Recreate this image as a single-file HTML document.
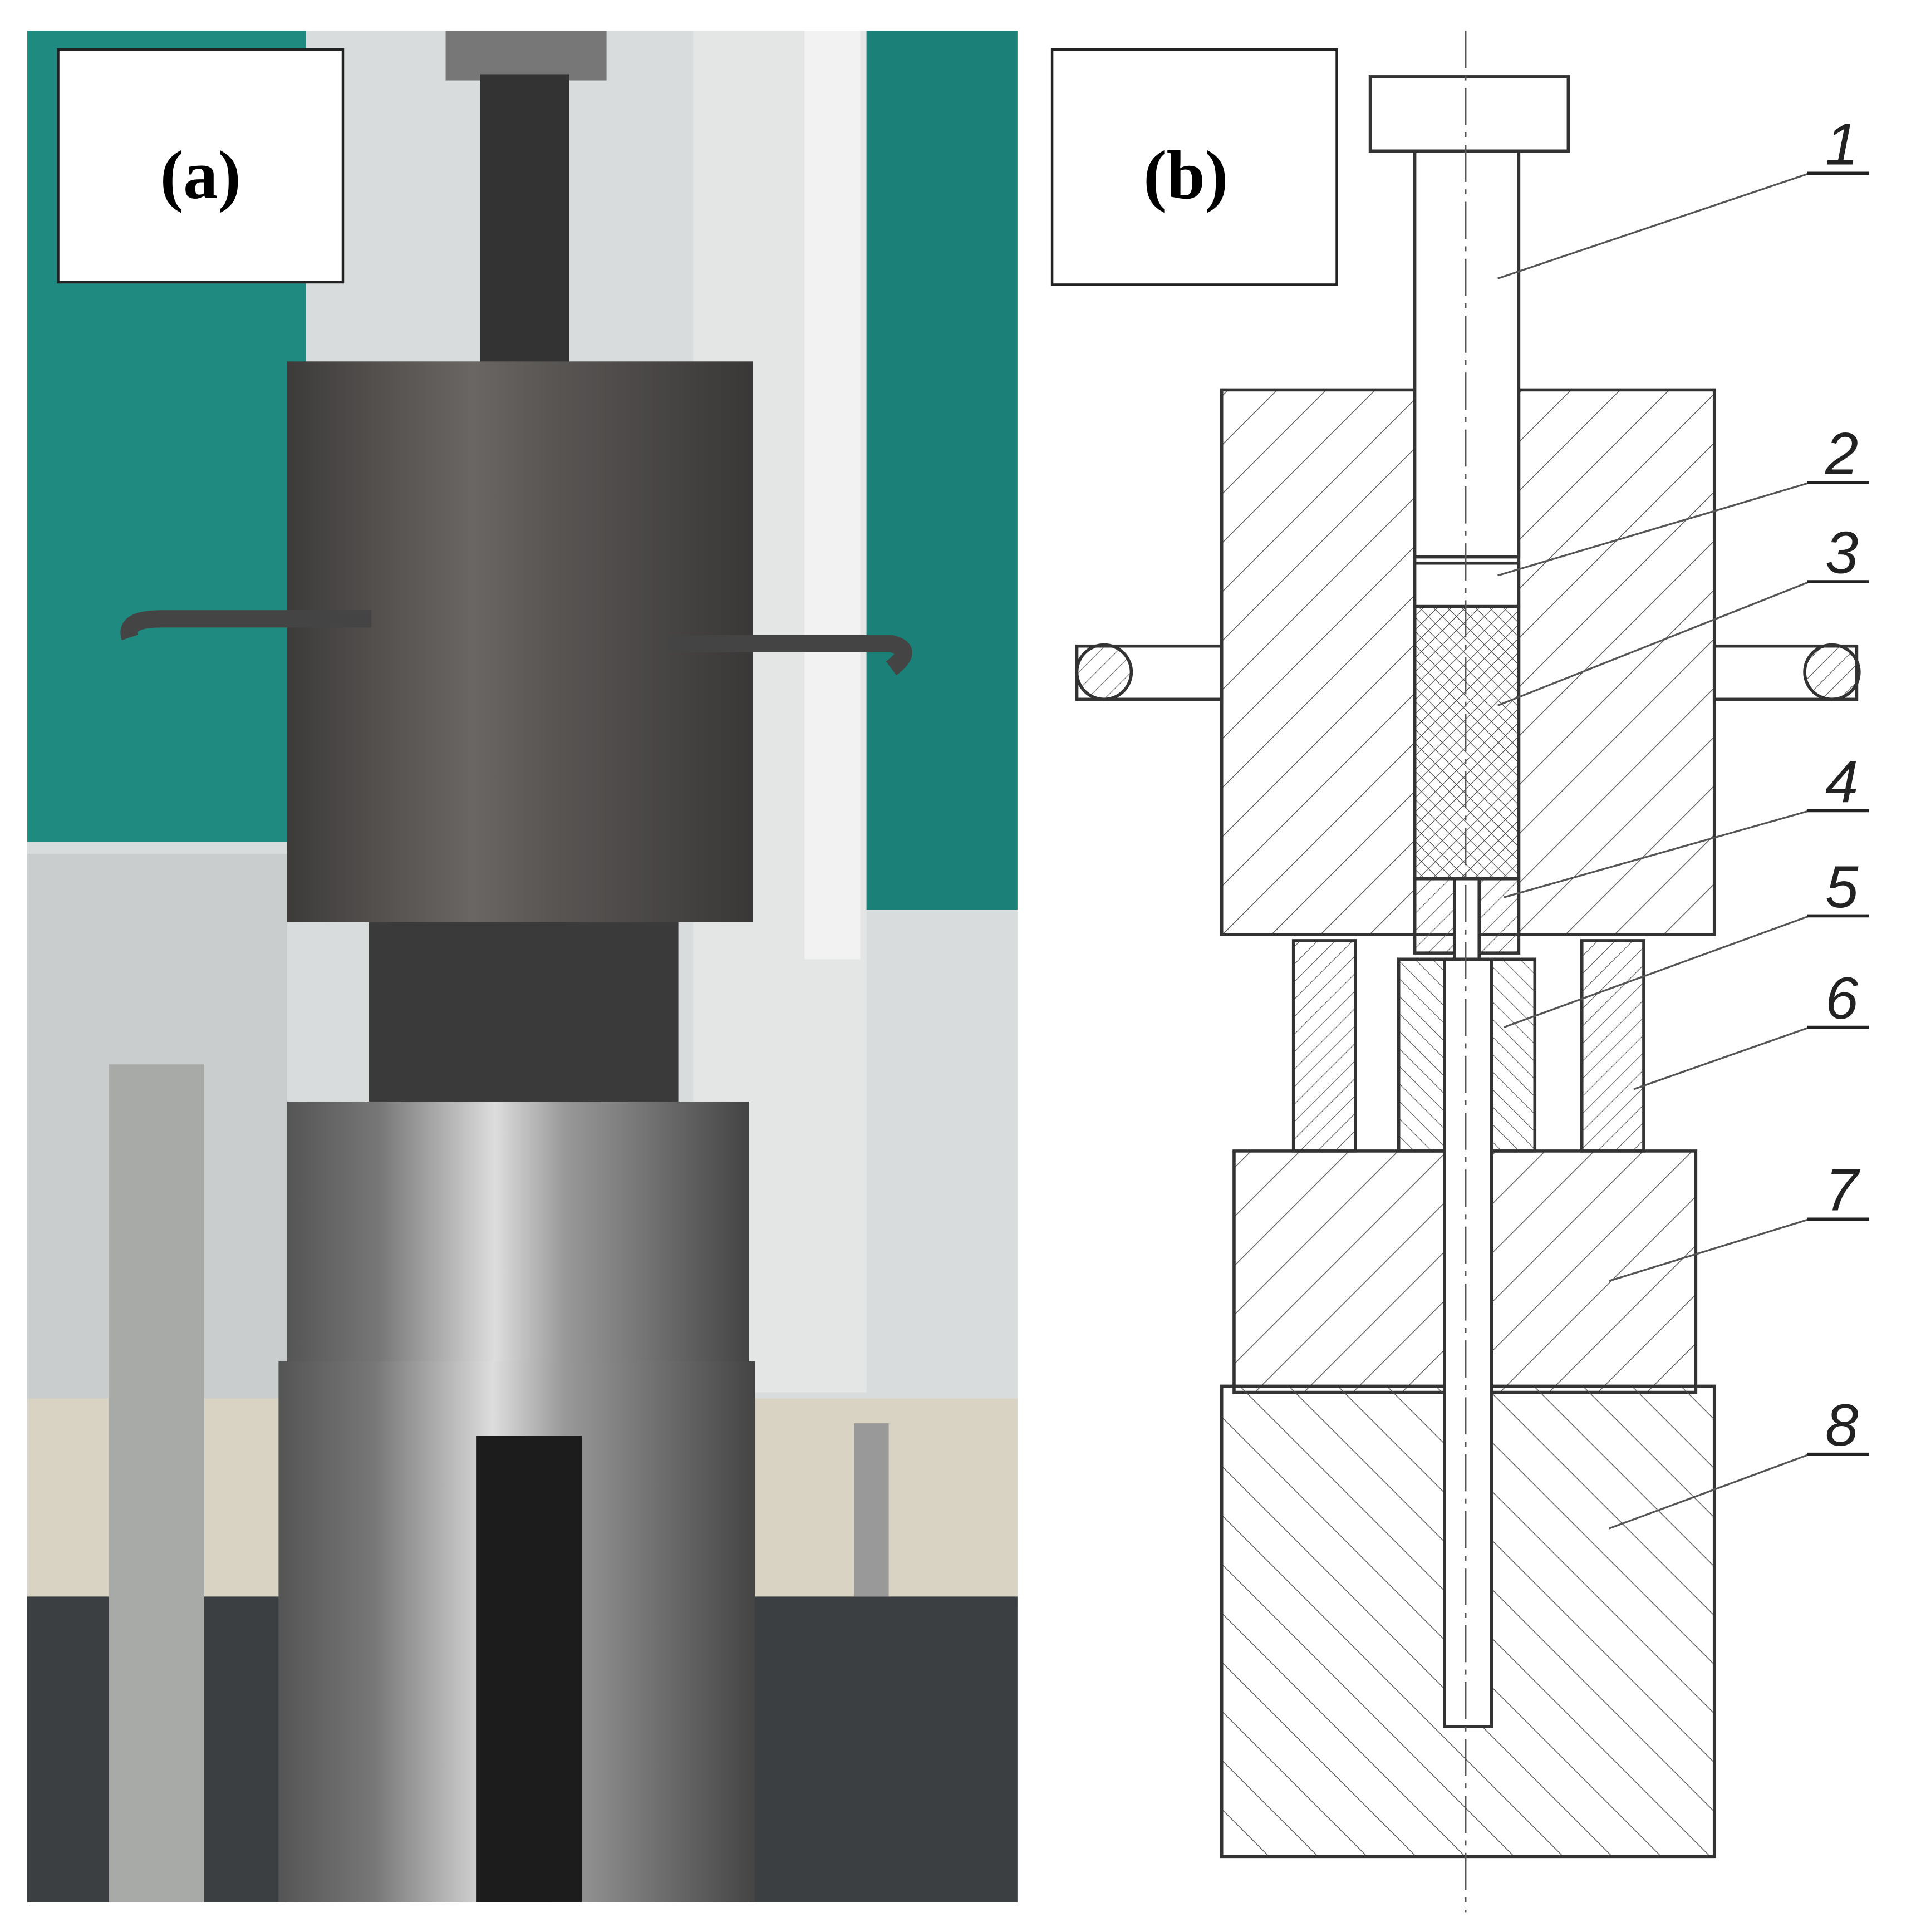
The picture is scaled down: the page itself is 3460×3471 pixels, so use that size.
<!DOCTYPE html>
<html><head><meta charset="utf-8"><style>html,body{margin:0;padding:0;background:#fff;overflow:hidden}svg{display:block}</style></head>
<body>
<svg width="3460" height="3471" viewBox="0 0 1556 1561" xmlns="http://www.w3.org/2000/svg">
<defs>
<pattern id="h1" width="28" height="28" patternUnits="userSpaceOnUse" patternTransform="rotate(45)"><line x1="0" y1="0" x2="0" y2="28" stroke="#555" stroke-width="1.3"/></pattern>
<pattern id="h2" width="28" height="28" patternUnits="userSpaceOnUse" patternTransform="rotate(-45)"><line x1="0" y1="0" x2="0" y2="28" stroke="#555" stroke-width="1.3"/></pattern>
<pattern id="hs" width="10" height="10" patternUnits="userSpaceOnUse" patternTransform="rotate(45)"><line x1="0" y1="0" x2="0" y2="10" stroke="#555" stroke-width="1"/></pattern>
<pattern id="hs2" width="10" height="10" patternUnits="userSpaceOnUse" patternTransform="rotate(-45)"><line x1="0" y1="0" x2="0" y2="10" stroke="#555" stroke-width="1"/></pattern>
<pattern id="xx" width="8" height="8" patternUnits="userSpaceOnUse" patternTransform="rotate(45)"><path d="M0 0V8M0 0H8" stroke="#444" stroke-width="1"/></pattern>
<linearGradient id="cyl" x1="0" x2="1"><stop offset="0" stop-color="#3d3b3a"/><stop offset=".4" stop-color="#6a6663"/><stop offset=".55" stop-color="#5a5755"/><stop offset="1" stop-color="#3a3837"/></linearGradient>
<linearGradient id="sil" x1="0" x2="1"><stop offset="0" stop-color="#555"/><stop offset=".2" stop-color="#777"/><stop offset=".45" stop-color="#ddd"/><stop offset=".6" stop-color="#999"/><stop offset="1" stop-color="#444"/></linearGradient>
</defs>
<rect width="1556" height="1561" fill="#fff"/>
<rect x="22" y="25" width="800" height="1512" fill="#d8dcdc"/>
<rect x="22" y="25" width="225" height="655" fill="#1f8a80"/>
<rect x="700" y="25" width="122" height="710" fill="#1a8078"/>
<rect x="560" y="25" width="140" height="1100" fill="#e4e6e6"/>
<rect x="650" y="25" width="45" height="750" fill="#f2f2f2"/>
<rect x="22" y="690" width="210" height="440" fill="#c9cdcd"/>
<rect x="22" y="1130" width="800" height="170" fill="#d9d3c4"/>
<rect x="360" y="25" width="130" height="40" fill="#777"/>
<rect x="388" y="60" width="72" height="235" fill="#333"/>
<rect x="232" y="292" width="376" height="453" fill="url(#cyl)"/>
<rect x="298" y="745" width="250" height="175" fill="#3a3a3a"/>
<path d="M105 515 Q100 500 130 500 L300 500" stroke="#444" stroke-width="14" fill="none"/>
<path d="M540 520 L720 520 Q740 525 720 540" stroke="#444" stroke-width="14" fill="none"/>
<rect x="605" y="1290" width="217" height="247" fill="#3b3f41"/>
<rect x="22" y="1290" width="210" height="247" fill="#3b3f41"/>
<rect x="232" y="890" width="373" height="225" fill="url(#sil)"/>
<rect x="225" y="1100" width="385" height="437" fill="url(#sil)"/>
<rect x="385" y="1160" width="85" height="377" fill="#1c1c1c"/>
<rect x="88" y="860" width="77" height="677" fill="#a8aaa8"/>
<rect x="690" y="1150" width="28" height="140" fill="#999"/>
<rect x="47" y="40" width="230" height="188" fill="#fff" stroke="#222" stroke-width="2"/>
<text x="162" y="160" font-family="Liberation Serif,serif" font-size="56" text-anchor="middle" font-weight="bold">(a)</text>
<rect x="850" y="40" width="230" height="190" fill="#fff" stroke="#222" stroke-width="2"/>
<text x="958" y="160" font-family="Liberation Serif,serif" font-size="56" text-anchor="middle" font-weight="bold">(b)</text>
<g stroke="#333" stroke-width="2.5">
<rect x="987" y="315" width="398" height="440" fill="url(#h1)"/>
<rect x="1143" y="315" width="84" height="440" fill="#fff"/>
<rect x="997" y="930" width="373" height="195" fill="url(#h1)"/>
<rect x="987" y="1120" width="398" height="380" fill="url(#h2)"/>
<rect x="1045" y="760" width="50" height="170" fill="url(#hs)"/>
<rect x="1278" y="760" width="50" height="170" fill="url(#hs)"/>
<rect x="1130" y="775" width="110" height="155" fill="url(#hs2)"/>
<rect x="1143" y="710" width="84" height="60" fill="url(#hs)"/>
<rect x="1175" y="710" width="20" height="65" fill="#fff"/>
<rect x="1143" y="490" width="84" height="220" fill="url(#xx)"/>
<rect x="1143" y="455" width="84" height="35" fill="#fff"/>
<rect x="1143" y="120" width="84" height="330" fill="#fff"/>
<rect x="1107" y="62" width="160" height="60" fill="#fff"/>
<rect x="1167" y="775" width="38" height="620" fill="#fff"/>
<rect x="870" y="522" width="117" height="43" fill="#fff"/>
<circle cx="892" cy="543" r="22" fill="url(#hs)"/>
<rect x="1385" y="522" width="115" height="43" fill="#fff"/>
<circle cx="1480" cy="543" r="22" fill="url(#hs)"/>
</g>
<line x1="1184" y1="25" x2="1184" y2="1545" stroke="#555" stroke-width="1.5" stroke-dasharray="30 6 4 6"/>
<g stroke="#555" stroke-width="1.5">
<line x1="1210" y1="225" x2="1462" y2="140"/>
<line x1="1210" y1="465" x2="1462" y2="390"/>
<line x1="1210" y1="570" x2="1462" y2="470"/>
<line x1="1215" y1="725" x2="1462" y2="655"/>
<line x1="1215" y1="830" x2="1462" y2="740"/>
<line x1="1320" y1="880" x2="1462" y2="830"/>
<line x1="1300" y1="1035" x2="1462" y2="985"/>
<line x1="1300" y1="1235" x2="1462" y2="1175"/>
</g>
<g stroke="#222" stroke-width="2.5">
<line x1="1460" y1="140" x2="1510" y2="140"/><line x1="1460" y1="390" x2="1510" y2="390"/>
<line x1="1460" y1="470" x2="1510" y2="470"/><line x1="1460" y1="655" x2="1510" y2="655"/>
<line x1="1460" y1="740" x2="1510" y2="740"/><line x1="1460" y1="830" x2="1510" y2="830"/>
<line x1="1460" y1="985" x2="1510" y2="985"/><line x1="1460" y1="1175" x2="1510" y2="1175"/>
</g>
<g font-family="Liberation Sans,sans-serif" font-size="48" font-style="italic" fill="#222" text-anchor="middle">
<text x="1488" y="133">1</text><text x="1488" y="383">2</text><text x="1488" y="463">3</text><text x="1488" y="648">4</text>
<text x="1488" y="733">5</text><text x="1488" y="823">6</text><text x="1488" y="978">7</text><text x="1488" y="1168">8</text>
</g>
</svg>
</body></html>
